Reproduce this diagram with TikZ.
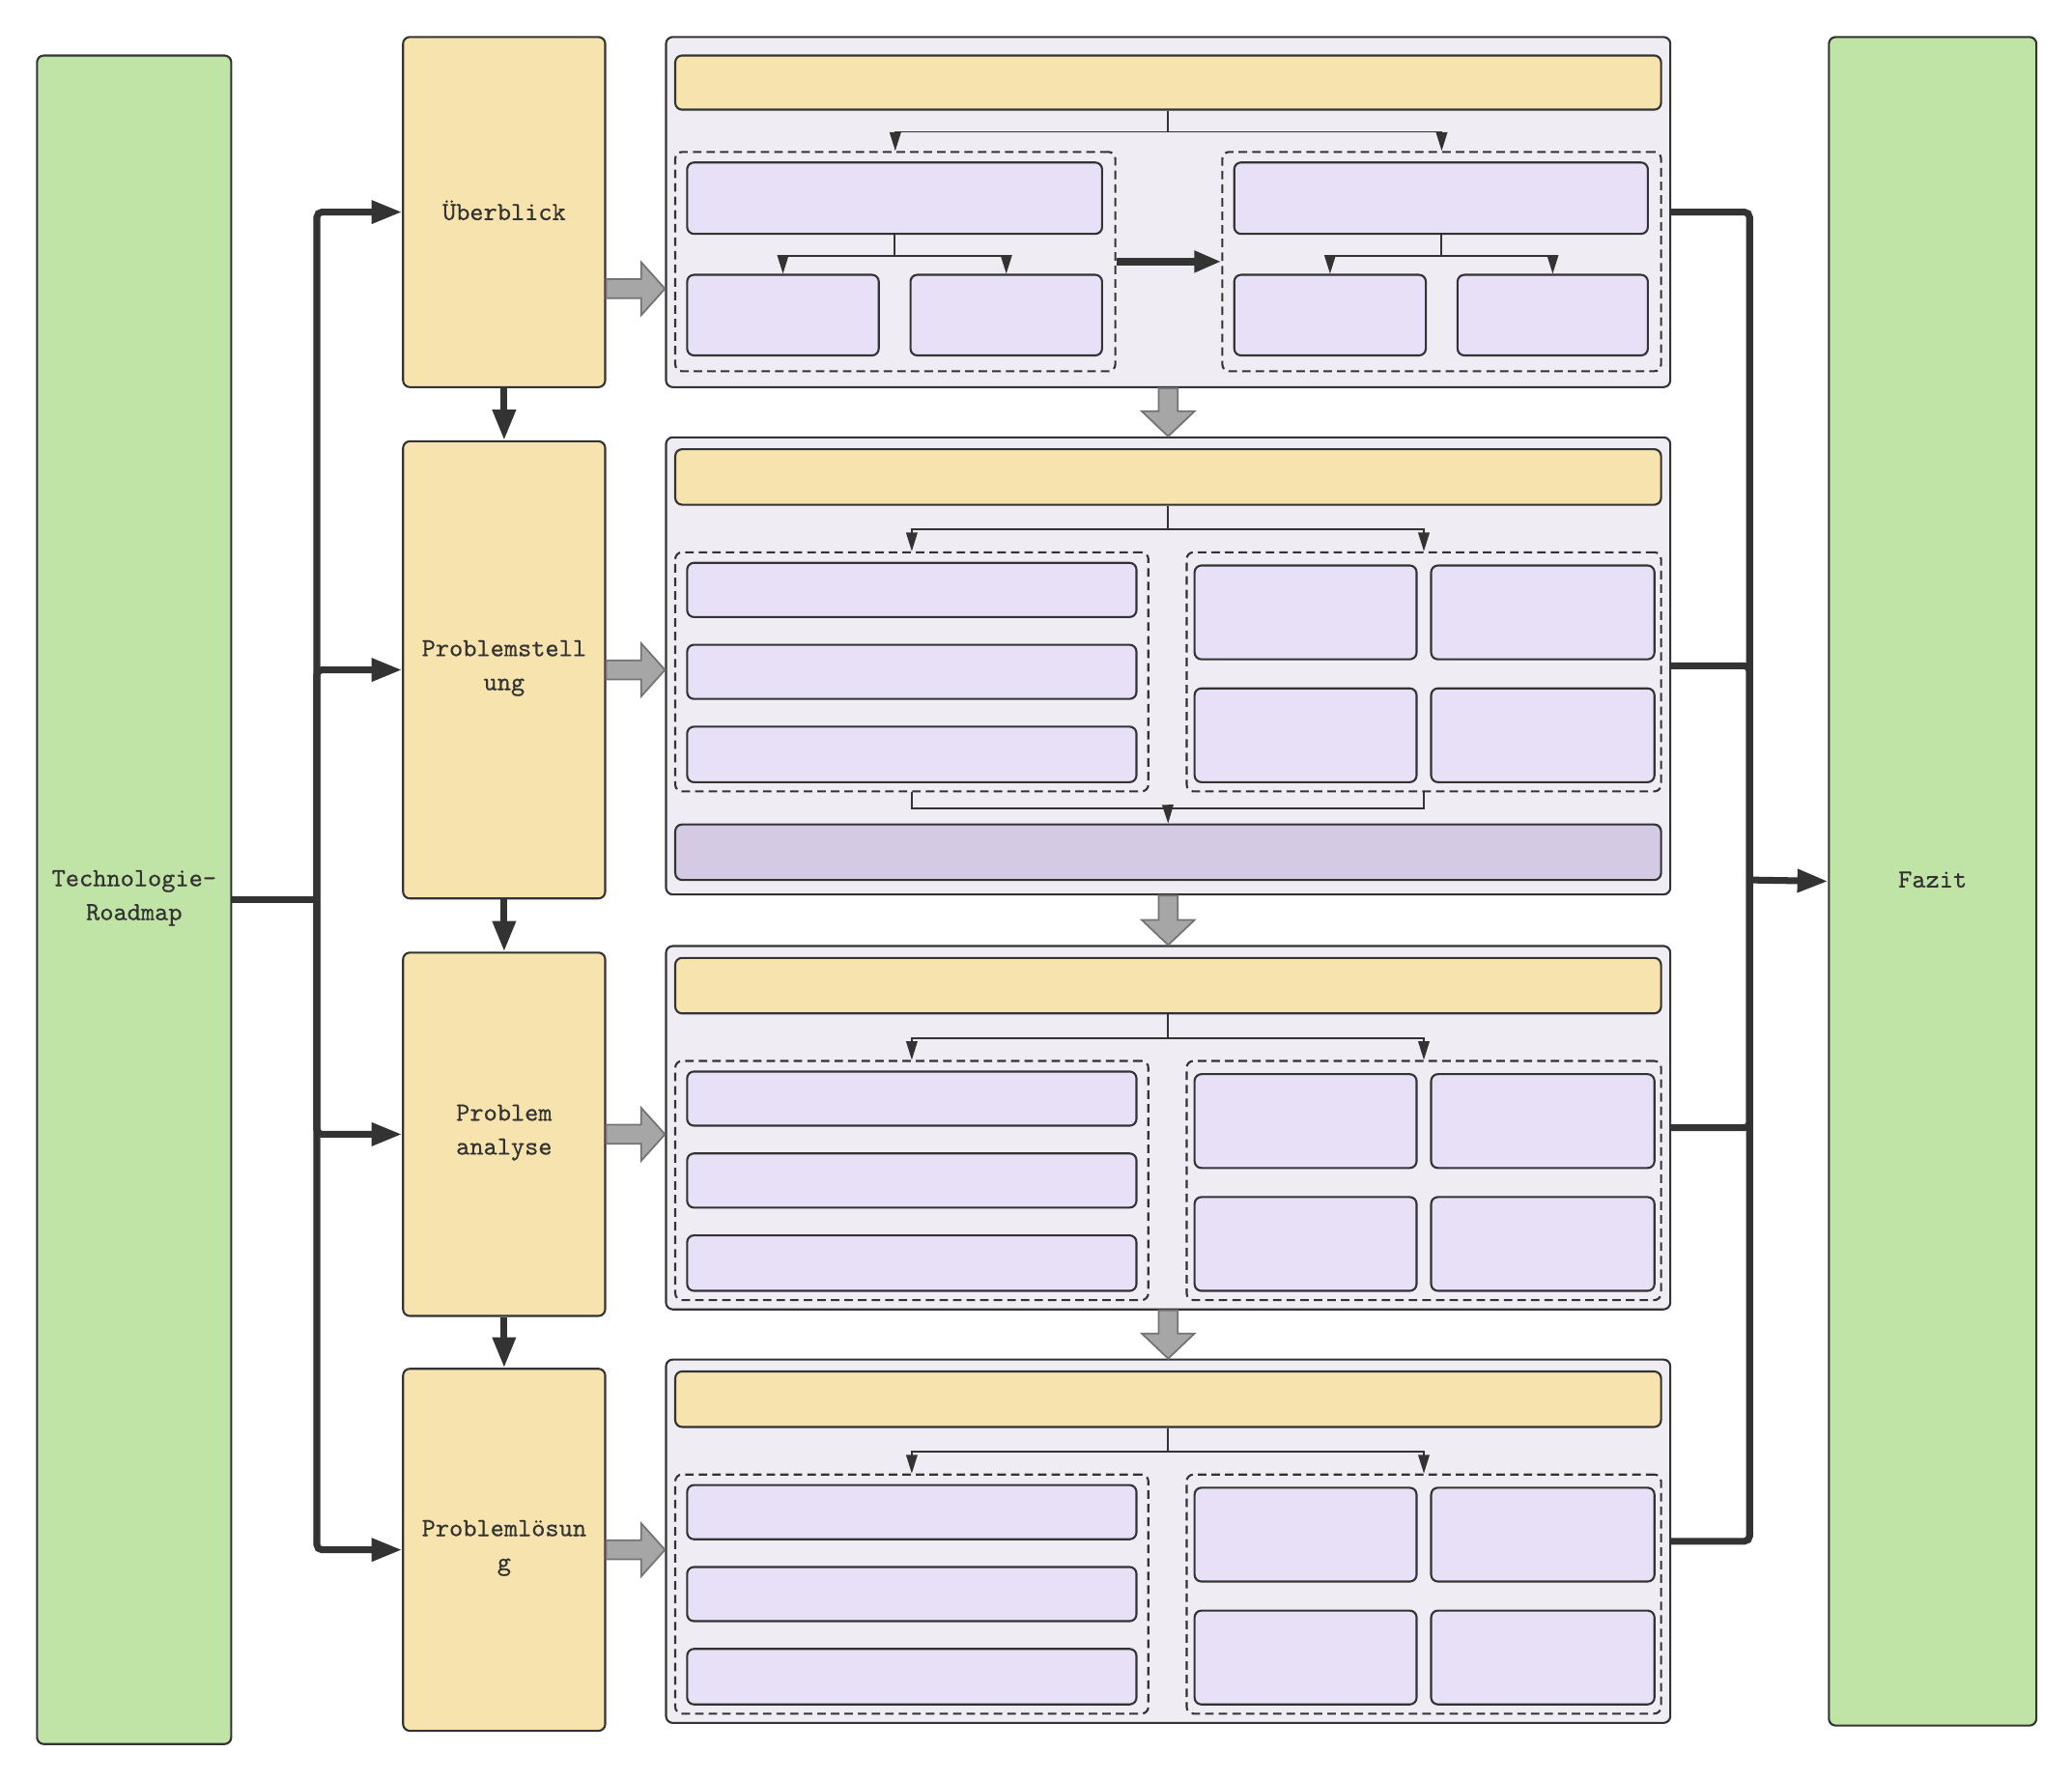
\documentclass[tikz,border=0pt]{standalone}
\usepackage{fontspec}
\setmonofont{lmmono10-regular.otf}[FakeBold=0.5]
\usepackage{tikz}
\usetikzlibrary{arrows.meta,positioning,fit,calc}
\definecolor{rmgreen}  {RGB}{192,227,166}
\definecolor{rmyellow} {RGB}{247,227,173}
\definecolor{rmpanel}  {RGB}{239,237,243}
\definecolor{rmlilac}  {RGB}{231,224,246}
\definecolor{rmpurple} {RGB}{212,202,227}
\definecolor{rmline}   {RGB}{51, 51, 51}
\definecolor{rmgray}   {RGB}{166,166,166}
\definecolor{rmgrayln} {RGB}{115,115,115}
\tikzset{
  box/.style={draw=rmline,line width=0.6pt,rounded corners=2pt,inner sep=0pt},
  roadbox/.style={box,fill=rmgreen},
  phasebox/.style={box,fill=rmyellow},
  panelbox/.style={box,fill=rmpanel},
  headbox/.style={box,fill=rmyellow},
  itembox/.style={box,fill=rmlilac},
  sumbox/.style={box,fill=rmpurple},
  boxtext/.style={font=\fontsize{7.7}{10}\selectfont\ttfamily,align=center,
                  text=rmline,inner sep=0pt,yshift=0.5pt},
  grpbox/.style={draw=rmline,line width=0.6pt,dash pattern=on 2.5pt off 1.5pt,
                 rounded corners=2pt,inner sep=0pt},
  bus/.style={draw=rmline,line width=2pt,rounded corners=1.5pt},
  busarr/.style={bus,-{Triangle[length=9pt,width=6.5pt]}},
  thinln/.style={draw=rmline,line width=0.5pt},
  thinarr/.style={thinln,-{Triangle[length=5.5pt,width=3.3pt]}},
  boldarr/.style={draw=rmline,line width=2.2pt,-{Triangle[length=8pt,width=6pt]}},
  fatarr/.style={fill=rmgray,draw=rmgrayln,line width=0.5pt,line join=miter},
}
% wide grey arrows between boxes
\newcommand{\fatright}[2]{%
  \draw[fatarr] let \p1=(#1), \p2=(#2) in
    (\x1,\y1+2.8pt) -- (\x2-7pt,\y1+2.8pt) -- (\x2-7pt,\y1+7.8pt) -- (\x2,\y1)
    -- (\x2-7pt,\y1-7.8pt) -- (\x2-7pt,\y1-2.8pt) -- (\x1,\y1-2.8pt) -- cycle;}
\newcommand{\fatdown}[2]{%
  \draw[fatarr] let \p1=(#1), \p2=(#2) in
    (\x1-2.8pt,\y1) -- (\x1-2.8pt,\y2+7.4pt) -- (\x1-7.8pt,\y2+7.4pt) -- (\x1,\y2)
    -- (\x1+7.8pt,\y2+7.4pt) -- (\x1+2.8pt,\y2+7.4pt) -- (\x1+2.8pt,\y1) -- cycle;}

\begin{document}
\begin{tikzpicture}[x=0.01368cm,y=-0.01368cm]
  \useasboundingbox (0,0) rectangle (1568,1347);
  % outer columns
  \node[roadbox,fit={(28,42) (175,1320)}] (tr) {};
  \node[roadbox,fit={(1384,28) (1541,1306)}] (fz) {};
  \node[boxtext] (trt) at (tr) {Technologie-\\Roadmap};
  \node[boxtext] (fzt) at (fz) {Fazit};

  % phases
  \node[phasebox,fit={(305,28) (458,293)}]   (ub) {};
  \node[phasebox,fit={(305,334) (458,680)}]  (ps) {};
  \node[phasebox,fit={(305,721) (458,996)}]  (pa) {};
  \node[phasebox,fit={(305,1036) (458,1310)}](pl) {};
  \node[boxtext] (ubt) at (ub) {Überblick};
  \node[boxtext] (pst) at (ps) {Problemstell\\ung};
  \node[boxtext] (pat) at (pa) {Problem\\analyse};
  \node[boxtext] (plt) at (pl) {Problemlösun\\g};

  % panels
  \node[panelbox,fit={(504,28) (1264,293)}]   (p1) {};
  \node[panelbox,fit={(504,331) (1264,677)}]  (p2) {};
  \node[panelbox,fit={(504,716) (1264,991)}]  (p3) {};
  \node[panelbox,fit={(504,1029) (1264,1304)}](p4) {};

  % panel 1
  \node[headbox,fit={(511,42) (1257,83)}] (h1) {};
  \node[grpbox,fit={(511,115) (844,281)}]  (gl1) {};
  \node[grpbox,fit={(925,115) (1257,281)}] (gr1) {};
  \node[itembox,fit={(520,123) (834,177)}]  (a1) {};
  \node[itembox,fit={(520,208) (665,269)}]  (a2) {};
  \node[itembox,fit={(689,208) (834,269)}]  (a3) {};
  \node[itembox,fit={(934,123) (1247,177)}] (b1) {};
  \node[itembox,fit={(934,208) (1079,269)}] (b2) {};
  \node[itembox,fit={(1103,208) (1247,269)}](b3) {};
  \draw[thinarr] (h1.south) -- ++(0,16) -| (gl1.north);
  \draw[thinarr] (h1.south) -- ++(0,16) -| (gr1.north);
  \draw[thinarr] (a1.south) -- ++(0,16) -| (a2.north);
  \draw[thinarr] (a1.south) -- ++(0,16) -| (a3.north);
  \draw[thinarr] (b1.south) -- ++(0,16) -| (b2.north);
  \draw[thinarr] (b1.south) -- ++(0,16) -| (b3.north);
  \draw[boldarr] (gl1.east) -- (gr1.west);

  % panels 2-4
  \foreach \i/\b in {2/340,3/725,4/1038}{
    \node[headbox,fit={(511,\b) (1257,\b+42)}] (h\i) {};
    \node[grpbox,fit={(511,\b+78) (869,\b+259)}]  (gl\i) {};
    \node[grpbox,fit={(898,\b+78) (1257,\b+259)}] (gr\i) {};
    \node[itembox,fit={(520,\b+86) (860,\b+127)}]  (l\i1) {};
    \node[itembox,fit={(520,\b+148) (860,\b+189)}] (l\i2) {};
    \node[itembox,fit={(520,\b+210) (860,\b+252)}] (l\i3) {};
    \node[itembox,fit={(904,\b+88) (1072,\b+159)}]   (r\i1) {};
    \node[itembox,fit={(1083,\b+88) (1252,\b+159)}]  (r\i2) {};
    \node[itembox,fit={(904,\b+181) (1072,\b+252)}]  (r\i3) {};
    \node[itembox,fit={(1083,\b+181) (1252,\b+252)}] (r\i4) {};
    \draw[thinarr] (h\i.south) -- ++(0,18) -| (gl\i.north);
    \draw[thinarr] (h\i.south) -- ++(0,18) -| (gr\i.north);
  }

  % panel 2 summary
  \node[sumbox,fit={(511,624) (1257,666)}] (s2) {};
  \draw[thinln] (gl2.south) -- ++(0,12) -| (gr2.south);
  \draw[thinarr] ($(gl2.south)!0.5!(gr2.south)+(0,12)$) -- (s2.north);

  % left bus
  \draw[bus] (tr.east) -- ++(64,0) coordinate (lb);
  \foreach \n in {ub,ps,pa,pl}
    \draw[busarr] (lb) |- (\n.west);

  % phase chain
  \draw[busarr] (ub) -- (ps);
  \draw[busarr] (ps) -- (pa);
  \draw[busarr] (pa) -- (pl);

  % right bus
  \coordinate (rb) at (1324,666);
  \foreach \n in {p1,p2,p3,p4}
    \draw[bus] (\n.east) -| (rb);
  \draw[busarr] (rb) -- (fz.west);

  % grey arrows
  \fatright{$(ub.east)+(0,58)$}{p1.west}
  \fatright{ps.east}{p2.west}
  \fatright{pa.east}{p3.west}
  \fatright{pl.east}{p4.west}
  \fatdown{p1.south}{p2.north}
  \fatdown{p2.south}{p3.north}
  \fatdown{p3.south}{p4.north}
\end{tikzpicture}
\end{document}
